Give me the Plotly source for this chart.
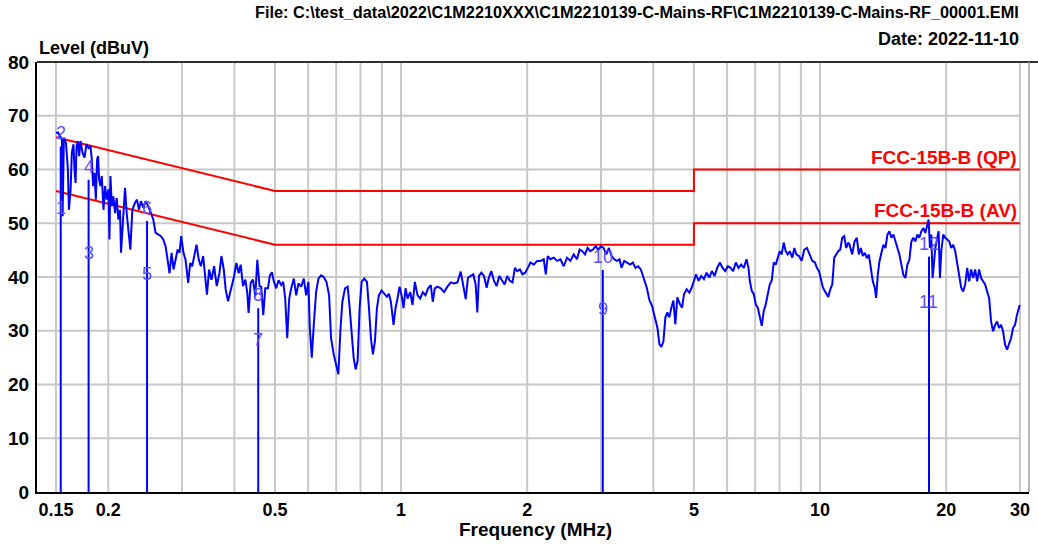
import numpy as np
import plotly.graph_objects as go

# ---------------- data ----------------
freq_seg1 = [0.150, 0.1517, 0.1536, 0.1550, 0.1556, 0.1567, 0.1585, 0.1602, 0.1611, 0.1626,
             0.1637, 0.1652, 0.1661, 0.1671, 0.1680, 0.1692, 0.1704, 0.1717, 0.1736, 0.1755,
             0.1774, 0.1794, 0.1814, 0.1827, 0.1840, 0.1854, 0.1868, 0.1881, 0.1891, 0.1902,
             0.1916, 0.1930, 0.1948, 0.1965, 0.1983, 0.2002, 0.2013, 0.2024, 0.2039, 0.2057,
             0.2076, 0.2095, 0.2114, 0.2133, 0.2145, 0.2165, 0.2193, 0.2213, 0.2241, 0.2258,
             0.2283, 0.2316, 0.2342, 0.2367, 0.2394, 0.2425, 0.2456, 0.2492, 0.2529, 0.2561,
             0.2594, 0.2632, 0.2671, 0.2706, 0.2741, 0.2771, 0.2801, 0.2832, 0.2863, 0.2895,
             0.2927, 0.2959, 0.2986, 0.3024, 0.3058, 0.3103, 0.3137, 0.3172, 0.3206, 0.3248,
             0.3289, 0.3326, 0.3369, 0.3412, 0.3440, 0.3481, 0.3526, 0.3578, 0.3630, 0.3684,
             0.3725, 0.3773, 0.3814, 0.3863, 0.3906, 0.3949, 0.3992, 0.4044, 0.4095, 0.4141,
             0.4194, 0.4248, 0.4295, 0.4325, 0.4374, 0.4430, 0.4487, 0.4537, 0.4593]
level_seg1 = [66.8, 66.9, 66.2, 65.6, 51.3, 65.9, 65.0, 60.0, 52.5, 56.3,
              63.1, 64.7, 60.0, 57.5, 64.3, 65.3, 62.5, 65.3, 63.1, 62.2,
              64.7, 64.0, 64.3, 61.9, 56.9, 59.4, 54.4, 61.9, 62.5, 58.1,
              56.9, 58.8, 52.5, 56.9, 54.4, 56.3, 47.0, 58.8, 53.2, 55.0,
              51.9, 54.7, 50.7, 52.5, 44.5, 48.8, 56.6, 51.9, 47.0, 45.1,
              52.5, 53.8, 54.4, 52.5, 54.1, 52.9, 54.1, 53.2, 51.9, 50.7,
              48.2, 47.9, 47.6, 47.0, 45.7, 43.2, 40.7, 44.5, 41.4, 43.2,
              45.1, 44.5, 47.6, 44.5, 43.2, 38.9, 42.6, 42.0, 43.9, 46.0,
              43.2, 42.0, 43.9, 38.9, 36.7, 41.4, 39.5, 42.0, 38.3, 40.7,
              43.9, 41.4, 37.6, 35.5, 37.0, 38.3, 40.1, 42.6, 40.7, 42.3,
              38.3, 39.5, 37.0, 33.3, 38.9, 39.5, 36.4, 43.2, 38.3]

freq_seg2 = [0.4637, 0.4688, 0.4740, 0.4810, 0.4863, 0.4917, 0.4970, 0.5035, 0.5098, 0.5174,
             0.5231, 0.5289, 0.5348, 0.5407, 0.5466, 0.5546, 0.5618, 0.5689, 0.5774, 0.5858,
             0.5934, 0.6009, 0.6054, 0.6121, 0.6188, 0.6268, 0.6348, 0.6442, 0.6537, 0.6633,
             0.6732, 0.6805, 0.6905, 0.7006, 0.7083, 0.7162, 0.7241, 0.7348, 0.7456, 0.7538,
             0.7621, 0.7705, 0.7790, 0.7875, 0.7962, 0.8050, 0.8168, 0.8289, 0.8381, 0.8472,
             0.8565, 0.8660, 0.8756, 0.8853, 0.8983, 0.9114, 0.9249, 0.9351, 0.9454, 0.9593,
             0.9698, 0.9805, 0.9917, 1.0026, 1.0136, 1.0248, 1.0361, 1.0513, 1.0649, 1.0786,
             1.0945, 1.1105, 1.1269, 1.1435, 1.1601, 1.1773, 1.1903, 1.2034, 1.2211, 1.2437,
             1.2666, 1.2900, 1.3137, 1.3379, 1.3626, 1.3877]
level_seg2 = [38.2, 32.9, 37.9, 37.9, 40.3, 40.9, 39.1, 37.9, 39.4, 38.5,
              39.1, 36.0, 28.6, 36.0, 37.9, 39.7, 36.6, 38.8, 38.2, 39.7,
              36.6, 39.1, 30.5, 25.0, 31.1, 37.2, 39.7, 40.3, 40.0, 39.1,
              36.6, 28.6, 25.6, 23.1, 21.9, 29.9, 35.4, 37.9, 38.2, 34.2,
              29.9, 25.0, 22.8, 24.4, 34.2, 39.1, 39.7, 39.1, 34.2, 28.6,
              25.6, 28.0, 34.2, 36.6, 37.5, 36.9, 36.3, 36.9, 35.4, 31.1,
              34.2, 36.0, 38.2, 36.6, 34.2, 37.9, 36.0, 37.2, 34.8, 39.1,
              36.6, 36.0, 37.2, 36.6, 37.9, 38.5, 35.4, 37.9, 38.2, 37.9,
              37.2, 38.2, 39.0, 38.8, 39.0, 41.0]

freq_seg3 = [1.4081, 1.4263, 1.4443, 1.4658, 1.4873, 1.5066, 1.5203, 1.5343, 1.5541, 1.5769,
             1.6003, 1.6201, 1.6417, 1.6657, 1.6904, 1.7152, 1.7403, 1.7661, 1.7920, 1.8183,
             1.8451, 1.8688, 1.8929, 1.9207, 1.9490, 1.9777, 2.0068, 2.0363, 2.0738, 2.1120,
             2.1510, 2.1906, 2.2147, 2.2388, 2.2722, 2.3140, 2.3567, 2.4001, 2.4443, 2.4894,
             2.5353, 2.5820, 2.6296, 2.6682, 2.7076, 2.7475, 2.7874, 2.8289, 2.8705, 2.9126,
             2.9559, 2.9994, 3.0433, 3.0884, 3.1335, 3.1796, 3.2267, 3.2740, 3.3221, 3.3587,
             3.4084, 3.4584, 3.5221, 3.5739, 3.6264, 3.6803, 3.7343, 3.7890, 3.8589, 3.9156,
             3.9733, 4.0319, 4.0904, 4.1361]
level_seg3 = [38.6, 35.9, 39.9, 40.2, 40.5, 38.6, 33.4, 40.2, 40.8, 40.2,
              38.0, 39.9, 41.1, 39.3, 38.3, 40.2, 39.3, 38.6, 40.2, 39.3,
              39.0, 41.7, 41.1, 41.4, 40.5, 40.8, 41.7, 42.7, 42.3, 43.0,
              43.0, 43.3, 40.5, 43.9, 43.3, 43.6, 43.0, 43.3, 42.0, 43.6,
              43.0, 44.2, 43.3, 45.1, 44.8, 44.2, 45.4, 44.8, 45.1, 45.7,
              45.1, 45.7, 45.4, 44.2, 45.4, 43.9, 43.3, 43.0, 43.3, 41.7,
              43.0, 42.7, 42.3, 42.7, 41.7, 42.0, 41.4, 39.9, 38.0, 35.7,
              34.6, 32.5, 30.6, 27.5]

freq_seg4 = [4.1817, 4.2278, 4.2743, 4.3208, 4.3690, 4.4172, 4.4659, 4.5150, 4.5641, 4.6322,
             4.6832, 4.7350, 4.8045, 4.8751, 4.9381, 5.0017, 5.0570, 5.1309, 5.2064, 5.2834,
             5.3610, 5.4397, 5.5199, 5.6012, 5.6826, 5.7673, 5.8521, 5.9380, 6.0263, 6.1146,
             6.2042, 6.2962, 6.3886, 6.4822, 6.5781, 6.6746, 6.7483, 6.7976, 6.8724, 6.9485,
             7.0253, 7.1028, 7.1805, 7.2595, 7.3399, 7.4210, 7.5029, 7.5849, 7.6683, 7.7533,
             7.8390, 7.9255, 8.0121, 8.1002, 8.1900, 8.2805, 8.3718, 8.4633, 8.5877, 8.6825,
             8.7781, 8.9069, 9.0382, 9.1714, 9.3046, 9.4434, 9.5822, 9.7229, 9.8287, 9.9413,
             10.051, 10.162, 10.312, 10.463, 10.579, 10.695, 10.813, 10.932, 11.052, 11.174,
             11.297, 11.421, 11.547, 11.676]
level_seg4 = [27.0, 28.0, 32.5, 33.4, 32.5, 34.3, 35.6, 31.2, 36.2, 34.9,
              34.3, 36.8, 37.7, 37.1, 38.0, 39.3, 40.5, 39.3, 40.2, 39.6,
              40.8, 39.9, 41.1, 40.2, 41.7, 42.7, 41.7, 41.1, 42.0, 41.7,
              41.1, 42.7, 41.7, 42.3, 41.7, 43.3, 41.7, 39.3, 37.4, 36.8,
              34.9, 34.3, 32.5, 30.9, 33.7, 34.9, 36.8, 38.6, 39.3, 42.7,
              42.3, 43.6, 44.8, 44.2, 46.4, 44.8, 44.2, 44.8, 43.6, 45.4,
              44.2, 43.9, 43.0, 45.1, 45.4, 44.2, 43.0, 42.7, 41.7, 41.1,
              39.3, 38.0, 37.1, 36.3, 37.7, 38.6, 43.6, 44.2, 44.8, 45.1,
              47.3, 47.6, 45.4, 46.4]

freq_seg5 = [11.761, 11.934, 12.088, 12.241, 12.377, 12.514, 12.652, 12.791, 12.930, 13.075,
             13.219, 13.364, 13.511, 13.611, 13.736, 13.862, 14.014, 14.170, 14.326, 14.485,
             14.643, 14.804, 14.968, 15.134, 15.301, 15.467, 15.637, 15.810, 15.985, 16.162,
             16.339, 16.519, 16.702, 16.886, 17.073, 17.259, 17.449, 17.642, 17.837, 18.034,
             18.164, 18.298, 18.432, 18.566, 18.703, 18.842, 19.050, 19.187, 19.329, 19.470,
             19.686, 19.903, 20.123, 20.342, 20.566, 20.794, 21.023, 21.255, 21.488, 21.724,
             21.965, 22.208, 22.453, 22.698, 22.948, 23.202, 23.458, 23.717, 23.976, 24.240,
             24.508, 24.779, 25.053, 25.327, 25.606, 25.889, 26.175, 26.464, 26.753, 27.047,
             27.347, 27.649, 27.954, 28.260, 28.571, 28.888, 29.207, 29.529, 29.742, 29.962]
level_seg5 = [46.0, 44.2, 46.6, 47.3, 44.2, 45.4, 43.9, 44.5, 43.5, 44.2,
              41.7, 39.2, 38.0, 36.1, 40.4, 42.9, 44.5, 46.0, 45.4, 47.9,
              48.5, 47.3, 47.9, 46.6, 45.4, 44.2, 42.3, 40.4, 39.8, 42.3,
              43.2, 46.6, 47.3, 46.6, 47.9, 47.3, 48.5, 49.1, 48.2, 50.1,
              50.7, 45.4, 47.9, 39.8, 42.3, 45.4, 47.3, 48.5, 39.8, 44.8,
              47.9, 47.3, 47.0, 46.6, 45.4, 46.0, 44.8, 42.3, 40.4, 38.0,
              37.3, 38.6, 41.7, 39.2, 41.4, 39.8, 41.4, 39.2, 41.4, 39.8,
              39.2, 38.6, 37.3, 36.1, 31.7, 29.9, 31.1, 31.7, 30.5, 31.1,
              29.9, 27.4, 26.5, 27.4, 28.6, 30.5, 31.1, 33.0, 34.2, 34.8]

# limit lines (FCC Part 15B class B, conducted)
qp_limit_freq = [0.15, 0.5, 5.0, 5.0, 30.0]
qp_limit_level = [66.0, 56.0, 56.0, 60.0, 60.0]
av_limit_freq = [0.15, 0.5, 5.0, 5.0, 30.0]
av_limit_level = [56.0, 46.0, 46.0, 50.0, 50.0]

# final measurement markers (odd = AV, even = QP)
marker_freq = [0.154, 0.1795, 0.2475, 0.456, 3.03, 18.2]
marker_qp = [64.3, 58.1, 50.4, 34.2, 41.3, 43.8]
marker_av = [50.4, 42.0, 38.1, 25.8, 31.7, 32.9]

x_tick_vals = [0.15, 0.2, 0.5, 1, 2, 5, 10, 20, 30]
x_tick_text = ["0.15", "0.2", "0.5", "1", "2", "5", "10", "20", "30"]
x_grid_vals = [0.15, 0.2, 0.3, 0.4, 0.5, 0.6, 0.7, 0.8, 0.9, 1,
               2, 3, 4, 5, 6, 7, 8, 9, 10, 20, 30]
y_tick_vals = [0, 10, 20, 30, 40, 50, 60, 70, 80]

title_file = r"File: C:\test_data\2022\C1M2210XXX\C1M2210139-C-Mains-RF\C1M2210139-C-Mains-RF_00001.EMI"
title_date = "Date: 2022-11-10"

# ---------------- figure ----------------
segs_f = [freq_seg1, freq_seg2, freq_seg3, freq_seg4, freq_seg5]
segs_l = [level_seg1, level_seg2, level_seg3, level_seg4, level_seg5]
for a, b in zip(segs_f, segs_l):
    assert len(a) == len(b), (len(a), len(b))
freq = [v for s in segs_f for v in s]
level = [v for s in segs_l for v in s]

FONT = "Liberation Sans, Arial, sans-serif"
X_LEFT_LOG = -0.8691
X_RIGHT_LOG = 1.4988
x_left = 10 ** X_LEFT_LOG

fig = go.Figure()

# grid lines
gx, gy = [], []
for f in x_grid_vals:
    gx += [f, f, None]
    gy += [0, 80, None]
for yv in y_tick_vals[1:-1]:
    gx += [x_left, 30, None]
    gy += [yv, yv, None]
fig.add_trace(go.Scatter(x=gx, y=gy, mode="lines",
                         line=dict(color="#c8c8c8", width=2), hoverinfo="skip"))

# limit lines
fig.add_trace(go.Scatter(x=qp_limit_freq, y=qp_limit_level, mode="lines",
                         line=dict(color="#ff0000", width=2)))
fig.add_trace(go.Scatter(x=av_limit_freq, y=av_limit_level, mode="lines",
                         line=dict(color="#ff0000", width=2)))

# marker stems
mx, my = [], []
for f, q in zip(marker_freq, marker_qp):
    mx += [f, f, None]
    my += [0, q, None]
fig.add_trace(go.Scatter(x=mx, y=my, mode="lines",
                         line=dict(color="#0000ff", width=2)))

# measurement trace
fig.add_trace(go.Scatter(x=freq, y=level, mode="lines",
                         line=dict(color="#0000ff", width=2)))

annotations = []
lab_color = "#5a50ff"
for i, (f, av, qp) in enumerate(zip(marker_freq, marker_av, marker_qp)):
    annotations.append(dict(x=np.log10(f), y=av, xref="x", yref="y", text=str(2 * i + 1),
                            showarrow=False, yshift=13, yanchor="middle",
                            font=dict(family=FONT, size=18, color=lab_color)))
    annotations.append(dict(x=np.log10(f), y=qp, xref="x", yref="y", text=str(2 * i + 2),
                            showarrow=False, yshift=13, yanchor="middle",
                            font=dict(family=FONT, size=18, color=lab_color)))

annotations += [
    dict(x=0.992, y=1.1163, xref="paper", yref="paper", text=title_file, showarrow=False,
         xanchor="right", yanchor="middle",
         font=dict(family=FONT, size=16.3, color="#000000", weight="bold")),
    dict(x=0.992, y=1.0535, xref="paper", yref="paper", text=title_date, showarrow=False,
         xanchor="right", yanchor="middle",
         font=dict(family=FONT, size=18, color="#000000", weight="bold")),
    dict(x=0.0, y=1.0326, xref="paper", yref="paper", text="Level (dBuV)", showarrow=False,
         xanchor="left", yanchor="middle",
         font=dict(family=FONT, size=18, color="#000000", weight="bold")),
    dict(x=0.5025, y=-0.088, xref="paper", yref="paper", text="Frequency (MHz)", showarrow=False,
         xanchor="center", yanchor="middle",
         font=dict(family=FONT, size=19, color="#000000", weight="bold")),
    dict(x=0.99, y=qp_limit_level[-1], xref="paper", yref="y", text="FCC-15B-B (QP)",
         showarrow=False, xanchor="right", yanchor="bottom", yshift=0,
         font=dict(family=FONT, size=19, color="#ff0000", weight="bold")),
    dict(x=0.99, y=av_limit_level[-1], xref="paper", yref="y", text="FCC-15B-B (AV)",
         showarrow=False, xanchor="right", yanchor="bottom", yshift=0,
         font=dict(family=FONT, size=19, color="#ff0000", weight="bold")),
]

shapes = [
    dict(type="line", xref="paper", yref="paper", x0=0, x1=1.009, y0=1, y1=1,
         line=dict(color="#303030", width=2)),
    dict(type="line", xref="paper", yref="paper", x0=1, x1=1, y0=0, y1=1,
         line=dict(color="#a0a0a0", width=1.5)),
]

fig.update_layout(
    width=1038, height=544,
    margin=dict(l=35, r=8, t=62, b=52),
    paper_bgcolor="white", plot_bgcolor="white",
    showlegend=False,
    annotations=annotations,
    shapes=shapes,
    xaxis=dict(type="log", range=[X_LEFT_LOG, X_RIGHT_LOG],
               tickvals=x_tick_vals, ticktext=x_tick_text,
               showgrid=False, zeroline=False, ticks="",
               showline=True, linecolor="#000000", linewidth=2,
               ticklabelstandoff=0,
               tickfont=dict(family=FONT, size=18, color="#000000", weight="bold")),
    yaxis=dict(range=[0, 80], tickvals=y_tick_vals,
               showgrid=False, zeroline=False, ticks="",
               showline=True, linecolor="#000000", linewidth=2,
               ticklabelstandoff=2,
               tickfont=dict(family=FONT, size=19, color="#000000", weight="bold")),
)

fig.write_html("out.html", config={"displayModeBar": False},
               post_script="document.body.style.margin='0px';")
